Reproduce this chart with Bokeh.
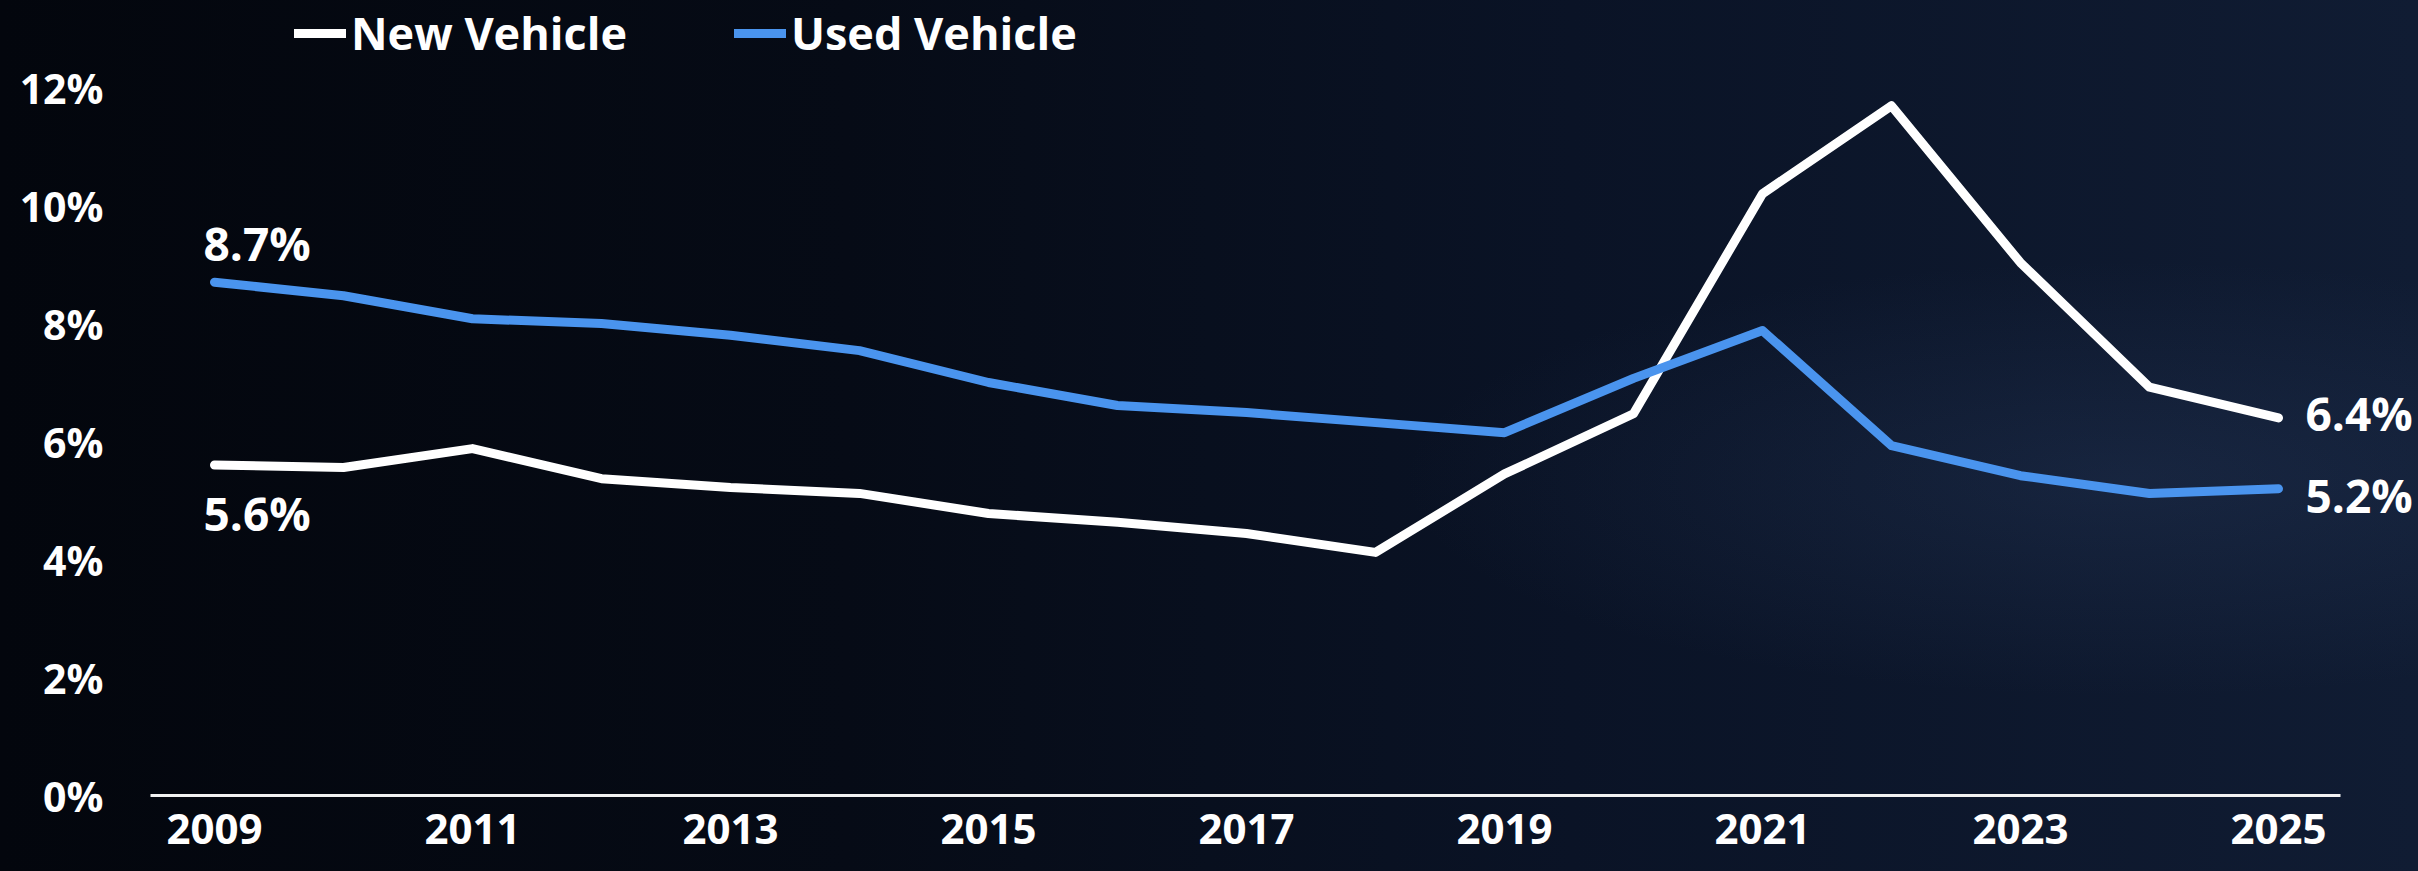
from bokeh.plotting import figure
from bokeh.models import (LinearAxis, FixedTicker, PrintfTickFormatter, Range1d,
                          Legend, LegendItem)
from bokeh.core.properties import value
from bokeh.embed import file_html
from bokeh.resources import INLINE

# ---------------- data ----------------
years = [2009, 2010, 2011, 2012, 2013, 2014, 2015, 2016, 2017,
         2018, 2019, 2020, 2021, 2022, 2023, 2024, 2025]
new_vehicle = [5.6, 5.56, 5.88, 5.37, 5.22, 5.12, 4.78, 4.63, 4.44,
               4.12, 5.45, 6.47, 10.2, 11.69, 9.03, 6.92, 6.4]
used_vehicle = [8.7, 8.47, 8.08, 8.0, 7.8, 7.54, 7.0, 6.61, 6.49,
                6.32, 6.15, 7.07, 7.88, 5.93, 5.42, 5.12, 5.2]
x_ticks = [2009, 2011, 2013, 2015, 2017, 2019, 2021, 2023, 2025]
y_ticks = [0, 2, 4, 6, 8, 10, 12]
series_names = ["New Vehicle", "Used Vehicle"]

# ---------------- style / layout ----------------
FONT = "Open Sans"
WHITE = "#ffffff"
BLUE = "#4a94ee"
W, H = 2418, 871
LEFT = 149               # frame left (canvas px)
XPX, YPX = 129.0, 59.0   # px per year, px per percentage point
X0_PX, Y0_PX = 214.0, 795.0  # canvas px of 2009 and of 0%

x_start = years[0] - (X0_PX - LEFT) / XPX
x_end = years[0] + (W - X0_PX) / XPX
y_start = -(H - Y0_PX) / YPX
y_end = Y0_PX / YPX

p = figure(width=W, height=H, output_backend="svg", toolbar_location=None,
           x_axis_location=None, y_axis_location=None,
           x_range=Range1d(x_start, x_end), y_range=Range1d(y_start, y_end),
           min_border_left=LEFT, min_border_right=0, min_border_top=0,
           min_border_bottom=0)
p.grid.visible = False
p.outline_line_alpha = 0
p.background_fill_alpha = 0
p.border_fill_alpha = 0
p.styles = {
    "background-image": (
        "radial-gradient(ellipse 30% 25% at 88% 55%, rgba(60,85,130,0.20), rgba(0,0,0,0) 100%),"
        "linear-gradient(to right, #03060d 0%, #060b16 35%, #0a1326 65%, #101c33 100%)"
    )
}

# axes
xaxis = LinearAxis(fixed_location=0, ticker=FixedTicker(ticks=x_ticks),
                   formatter=PrintfTickFormatter(format="%d"),
                   bounds=(years[0] - 0.5, years[-1] + 0.48))
xaxis.axis_line_color = "#f2f2f2"
xaxis.axis_line_width = 3
xaxis.major_tick_line_alpha = 0
xaxis.minor_tick_line_alpha = 0
xaxis.major_tick_out = 0
xaxis.major_tick_in = 0
xaxis.major_label_standoff = 18
xaxis.major_label_text_font = FONT
xaxis.major_label_text_font_style = "bold"
xaxis.major_label_text_font_size = "42px"
xaxis.major_label_text_color = WHITE
p.add_layout(xaxis, "below")

yaxis = LinearAxis(ticker=FixedTicker(ticks=y_ticks),
                   formatter=PrintfTickFormatter(format="%d%%"))
yaxis.axis_line_alpha = 0
yaxis.major_tick_line_alpha = 0
yaxis.minor_tick_line_alpha = 0
yaxis.major_tick_out = 0
yaxis.major_tick_in = 0
yaxis.major_label_standoff = 46
yaxis.major_label_text_font = FONT
yaxis.major_label_text_font_style = "bold"
yaxis.major_label_text_font_size = "41px"
yaxis.major_label_text_color = WHITE
p.add_layout(yaxis, "left")

# lines
r_new = p.line(years, new_vehicle, line_color=WHITE, line_width=9,
               line_cap="round", line_join="round")
r_used = p.line(years, used_vehicle, line_color=BLUE, line_width=9,
                line_cap="round", line_join="round")

# end labels
lab = dict(text_font=value(FONT), text_font_style="bold", text_font_size="46px",
           text_color=WHITE, text_baseline="middle", text_align="left")
p.text(x=[years[0]], y=[used_vehicle[0]], text=[f"{used_vehicle[0]:.1f}%"],
       x_offset=-11, y_offset=-39, **lab)
p.text(x=[years[0]], y=[new_vehicle[0]], text=[f"{new_vehicle[0]:.1f}%"],
       x_offset=-11, y_offset=48, **lab)
p.text(x=[years[-1]], y=[new_vehicle[-1]], text=[f"{new_vehicle[-1]:.1f}%"],
       x_offset=27, y_offset=-5, **lab)
p.text(x=[years[-1]], y=[used_vehicle[-1]], text=[f"{used_vehicle[-1]:.1f}%"],
       x_offset=27, y_offset=6, **lab)

# legend
legend = Legend(items=[LegendItem(label=series_names[0], renderers=[r_new]),
                       LegendItem(label=series_names[1], renderers=[r_used])],
                orientation="horizontal", location=(145, 808))
legend.glyph_width = 52
legend.glyph_height = 20
legend.label_standoff = 5
legend.spacing = 107
legend.padding = 0
legend.margin = 0
legend.border_line_alpha = 0
legend.background_fill_alpha = 0
legend.label_text_font = FONT
legend.label_text_font_style = "bold"
legend.label_text_font_size = "45px"
legend.label_text_color = WHITE
p.add_layout(legend)

open("out.html", "w").write(file_html(p, INLINE))
